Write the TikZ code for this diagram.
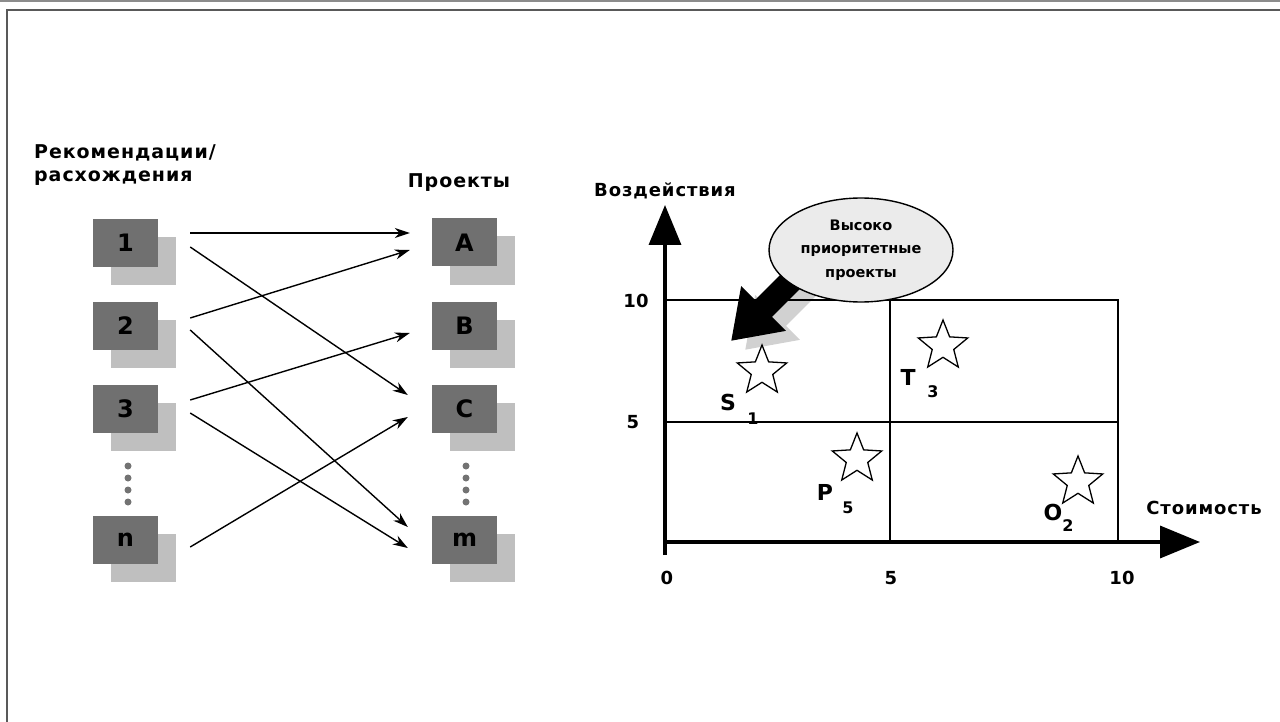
\documentclass[tikz,border=0pt]{standalone}
\usepackage{fontspec}
\setmainfont{DejaVu Sans}
\usetikzlibrary{arrows.meta,backgrounds,shadows,shapes.geometric}

\tikzset{
	darkbox/.style={fill=black!56, minimum width=65pt, minimum height=48pt, inner sep=0pt,
		font=\fontsize{24}{24}\selectfont\bfseries,
		drop shadow={shadow xshift=18pt, shadow yshift=-18pt, fill=black!25, opacity=1}},
	hdr/.style={font=\fontsize{19}{23}\selectfont\bfseries\addfontfeatures{LetterSpace=5}, inner sep=0pt},
	axtitle/.style={font=\fontsize{18}{18}\selectfont\bfseries\addfontfeatures{LetterSpace=5}, inner sep=0pt},
	link/.style={-{Stealth[length=15pt,width=10pt]}, line width=1.4pt},
	axis/.style={line width=3.5pt, -{Triangle[length=40pt,width=32pt]}},
	grid/.style={line width=1.6pt},
	tick/.style={font=\fontsize{18}{18}\selectfont\bfseries, inner sep=0pt},
	prio/.style={ellipse, draw, line width=1.4pt, fill=black!8, minimum width=184pt, minimum height=104pt,
		align=center, inner sep=0pt, font=\fontsize{14.5}{23.5}\selectfont\bfseries},
	bigarrow/.style={line width=24pt, -{Triangle[length=46pt,width=60pt]}},
	prj/.style={star, star points=5, star point ratio=2.3, draw, line width=1.3pt, minimum size=52pt, inner sep=0pt},
	lbl/.style={font=\fontsize{22}{22}\selectfont\bfseries, inner sep=0pt},
	sub/.style={font=\fontsize{16}{16}\selectfont\bfseries, inner sep=0pt}
}

\begin{document}
\begin{tikzpicture}[x=1pt,y=-1pt]
	\useasboundingbox (0,0) rectangle (1280,722);
	%%%%% FRAME %%%%%
	\draw[black!45, line width=2pt] (0,1.5) -- (1280,1.5);
	\draw[black!65, line width=2pt] (6.5,722) -- (6.5,10.5) -- (1280,10.5);
	
	%%%%% LEFT %%%%%
	\node[hdr, anchor=north west, align=left] (rec) at (34,144) {Рекомендации/\\расхождения};
	\node[hdr] (proj) at (459,183) {Проекты};
	
	\node[darkbox] (l1) at (125.5,243) {1};
	\node[darkbox] (l2) at (125.5,326) {2};
	\node[darkbox] (l3) at (125.5,408.5) {3};
	\node[darkbox] (ln) at (125.5,540) {n};
	
	\node[darkbox] (rA) at (464.5,242.5) {A};
	\node[darkbox] (rB) at (464.5,326) {B};
	\node[darkbox] (rC) at (464.5,408.5) {C};
	\node[darkbox] (rm) at (464.5,540) {m};
	
	\foreach \y in {466,478,490,502} {
		\fill[black!55] (128,\y) circle (3.5);
		\fill[black!55] (466,\y) circle (3.5);
	}
	
	\draw[link] ([shift={(32,-10)}]l1.east) -- ([shift={(-22,-9.5)}]rA.west);
	\draw[link] ([shift={(32,4)}]l1.east) -- ([shift={(-24,-13.5)}]rC.west);
	\draw[link] ([shift={(32,-8)}]l2.east) -- ([shift={(-22,7.5)}]rA.west);
	\draw[link] ([shift={(32,4)}]l2.east) -- ([shift={(-24,-13)}]rm.west);
	\draw[link] ([shift={(32,-8.5)}]l3.east) -- ([shift={(-22,7)}]rB.west);
	\draw[link] ([shift={(32,4.5)}]l3.east) -- ([shift={(-24,8)}]rm.west);
	\draw[link] ([shift={(32,7)}]ln.east) -- ([shift={(-24,8.5)}]rC.west);
	
	%%%%% CHART %%%%%
	\coordinate (O) at (665,542);
	\draw[grid] (665,300) rectangle (1118,542);
	\draw[grid] (890,300) -- (890,542);
	\draw[grid] (665,422) -- (1118,422);
	\draw[axis] (665,555) -- (665,205);
	\draw[axis] (663,542) -- (1200,542);
	
	\node[tick] (y10) at (636,301) {10};
	\node[tick] (y5) at (633,422) {5};
	\node[tick] (x0) at (667,578) {0};
	\node[tick] (x5) at (891,578) {5};
	\node[tick] (x10) at (1122,578) {10};
	\node[axtitle] (ytitle) at (665,191) {Воздействия};
	\node[axtitle] (xtitle) at (1204,508) {Стоимость};
	
	\node[prio] (hp) at (861,250) {Высоко\\приоритетные\\проекты};
	\coordinate (hptip) at (731,341);
	\begin{scope}[on background layer]
		\draw[bigarrow, black!18] ([shift={(-42,26)}]hp.center) -- ([shift={(14,9)}]hptip);
		\draw[bigarrow] ([shift={(-56,17)}]hp.center) -- (hptip);
	\end{scope}
	
	\node[prj] (s1) at (762,371) {};
	\node[prj] (t3) at (943,346) {};
	\node[prj] (p5) at (857,459) {};
	\node[prj] (o2) at (1078,482) {};
	
	\node[lbl] (sl) at (728,402) {S};
	\node[sub] (sn) at (753,419) {1};
	\node[lbl] (tl) at (908,377) {T};
	\node[sub] (tn) at (933,392) {3};
	\node[lbl] (pl) at (825,492) {P};
	\node[sub] (pn) at (848,508) {5};
	\node[lbl] (ol) at (1053,512) {O};
	\node[sub] (on) at (1068,526) {2};
\end{tikzpicture}
\end{document}
